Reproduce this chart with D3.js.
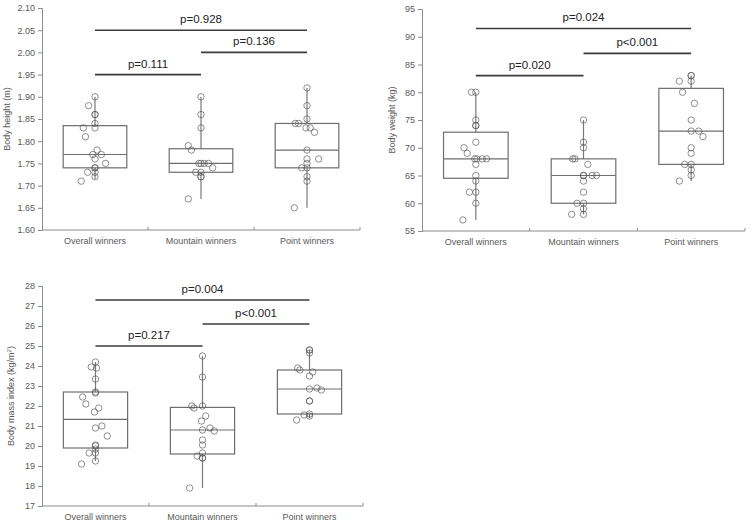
<!DOCTYPE html>
<html>
<head>
<meta charset="utf-8">
<script src="https://cdn.jsdelivr.net/npm/d3@7"></script>
<style>
  body { margin: 0; background: #fff; }
  svg { display: block; }
  text { font-family: "Liberation Sans", Arial, sans-serif; }
</style>
</head>
<body>
<svg width="751" height="524"></svg>
<script>
// categories shared by the three panels
var categories = ["Overall winners", "Mountain winners", "Point winners"];

// box stats per group: [whisker low, q1, median, q3, whisker high]
var heightBoxes = [[1.715, 1.74, 1.77, 1.835, 1.90], [1.67, 1.73, 1.75, 1.783, 1.90], [1.65, 1.74, 1.78, 1.84, 1.92]];
var weightBoxes = [[57, 64.5, 68, 72.8, 80], [58, 60, 65, 68, 75], [64, 67, 73, 80.7, 83]];
var bmiBoxes = [[19.25, 19.9, 21.33, 22.7, 24.2], [17.9, 19.6, 20.8, 21.93, 24.5], [21.4, 21.6, 22.85, 23.8, 24.8]];

// individual riders
var heightOverall = [1.90, 1.88, 1.86, 1.86, 1.84, 1.83, 1.83, 1.81, 1.78, 1.77, 1.77, 1.76, 1.75, 1.74, 1.74, 1.73, 1.73, 1.72, 1.71];
var heightMountain = [1.90, 1.86, 1.83, 1.79, 1.78, 1.75, 1.75, 1.75, 1.75, 1.74, 1.73, 1.73, 1.72, 1.72, 1.67];
var heightPoint = [1.92, 1.88, 1.85, 1.84, 1.84, 1.83, 1.83, 1.82, 1.78, 1.76, 1.76, 1.75, 1.74, 1.74, 1.72, 1.71, 1.65];

var weightOverall = [80, 80, 75, 74, 74, 71, 70, 69, 68, 68, 68, 68, 67, 65, 64, 62, 62, 60, 57];
var weightMountain = [75, 71, 70, 68, 68, 67, 65, 65, 65, 65, 64, 62, 60, 60, 59, 58, 58];
var weightPoint = [83, 83, 82, 82, 80, 78, 75, 73, 73, 72, 70, 69, 67, 67, 66, 65, 64];

var bmiOverall = [24.2, 23.95, 23.9, 23.35, 22.7, 22.65, 22.45, 22.1, 21.9, 21.7, 21.0, 20.9, 20.5, 20.05, 20.0, 19.85, 19.65, 19.65, 19.25, 19.1];
var bmiMountain = [24.5, 23.45, 22.0, 22.0, 21.9, 21.5, 21.25, 20.9, 20.8, 20.75, 20.3, 20.05, 19.65, 19.5, 19.4, 19.4, 17.9];
var bmiPoint = [24.8, 24.8, 24.65, 23.9, 23.8, 23.7, 23.5, 22.9, 22.85, 22.8, 22.25, 22.25, 21.6, 21.55, 21.5, 21.3];

// horizontal jitter, as fraction of the category band
var heightJitter = [
  [0, -0.06, 0, 0, 0, -0.11, 0, -0.09, 0.02, -0.02, 0.06, 0, 0.10, 0, 0, -0.07, 0, 0, -0.13],
  [0, 0, 0, -0.12, -0.09, -0.02, 0, 0.03, 0.07, 0.11, -0.05, 0, 0, 0, -0.12],
  [0, 0, 0, -0.11, -0.08, -0.01, 0.03, 0.07, 0, 0, 0.11, 0, -0.05, 0, 0, 0, -0.12]];
var weightJitter = [
  [-0.04, 0, 0, 0, 0, 0, -0.11, -0.08, -0.01, 0.01, 0.06, 0.10, 0, 0, 0, -0.06, 0, 0, -0.12],
  [0, 0, 0, -0.10, -0.08, 0.04, 0, 0, 0.08, 0.12, 0, 0, -0.06, 0, 0, -0.11, 0],
  [0, 0, -0.11, 0, -0.08, 0.03, 0, 0, 0.07, 0.11, 0, 0, -0.06, 0, 0, 0, -0.11]];
var bmiJitter = [
  [0, -0.04, 0.01, 0, 0, 0, -0.12, -0.09, 0.03, -0.01, 0.06, 0, 0.11, 0, 0, 0, -0.06, 0, 0, -0.13],
  [0, 0, -0.10, 0, -0.08, 0.03, -0.01, 0.07, 0, 0.11, 0, 0, 0, -0.05, 0, 0, -0.12],
  [0, 0, 0, -0.11, -0.09, 0.03, 0, 0.07, 0, 0.11, 0, 0, 0, -0.05, 0, -0.12]];

// significance brackets: [from group, to group, level, label]
var heightPvals = [[0, 2, 2.05, "p=0.928"], [1, 2, 2.00, "p=0.136"], [0, 1, 1.95, "p=0.111"]];
var weightPvals = [[0, 2, 91.5, "p=0.024"], [1, 2, 87, "p<0.001"], [0, 1, 83, "p=0.020"]];
var bmiPvals = [[0, 2, 27.3, "p=0.004"], [1, 2, 26.1, "p<0.001"], [0, 1, 25.0, "p=0.217"]];

var svg = d3.select("svg");

function drawPanel(opt) {
  var g = svg.append("g");

  var x = d3.scaleBand().domain(categories).range(opt.xr);
  var y = d3.scaleLinear().domain(opt.dom).range(opt.yr);
  var bw = x.bandwidth();
  var cx = function(i) { return x(categories[i]) + bw / 2; };

  // y axis
  var yAxis = g.append("g")
    .attr("transform", "translate(" + opt.xr[0] + ",0)")
    .call(d3.axisLeft(y).tickValues(opt.ticks).tickSize(4).tickFormat(d3.format(opt.fmt)));
  yAxis.select(".domain").attr("stroke", "#8c8c8c");
  yAxis.selectAll(".tick line").attr("stroke", "#8c8c8c");
  yAxis.selectAll(".tick text")
    .attr("fill", "#595959")
    .attr("font-size", "9px")
    .attr("font-family", "Liberation Sans, Arial, sans-serif");

  // x axis: plain line with ticks between categories
  g.append("line")
    .attr("x1", opt.xr[0]).attr("x2", opt.xr[1])
    .attr("y1", opt.yr[0]).attr("y2", opt.yr[0])
    .attr("stroke", "#8c8c8c");
  [1, 2, 3].forEach(function(i) {
    var xx = i < 3 ? x(categories[i]) : opt.xr[1];
    g.append("line")
      .attr("x1", xx).attr("x2", xx)
      .attr("y1", opt.yr[0]).attr("y2", opt.yr[0] - 3)
      .attr("stroke", "#8c8c8c");
  });
  categories.forEach(function(c, i) {
    g.append("text")
      .attr("x", cx(i))
      .attr("y", opt.yr[0] + 14)
      .attr("text-anchor", "middle")
      .attr("font-size", "9px")
      .attr("fill", "#595959")
      .text(c);
  });

  // y label
  var lab = g.append("text")
    .attr("transform", "translate(" + opt.labX + "," + ((opt.yr[0] + opt.yr[1]) / 2) + ") rotate(-90)")
    .attr("text-anchor", "middle")
    .attr("font-size", "9px")
    .attr("fill", "#595959");
  lab.append("tspan").text(opt.label);
  if (opt.sup) {
    lab.append("tspan").attr("font-size", "6px").attr("dy", "-3").text(opt.sup);
    lab.append("tspan").attr("dy", "3").text(")");
  }

  // whiskers, boxes, medians
  opt.boxes.forEach(function(b, i) {
    g.append("line")
      .attr("x1", cx(i)).attr("x2", cx(i))
      .attr("y1", y(b[0])).attr("y2", y(b[4]))
      .attr("stroke", "#7a7a7a")
      .attr("stroke-width", 1.2);
    g.append("rect")
      .attr("x", cx(i) - bw * 0.3)
      .attr("width", bw * 0.6)
      .attr("y", y(b[3]))
      .attr("height", y(b[1]) - y(b[3]))
      .attr("fill", "#fff")
      .attr("stroke", "#6e6e6e")
      .attr("stroke-width", 1.2);
    g.append("line")
      .attr("x1", cx(i) - bw * 0.3).attr("x2", cx(i) + bw * 0.3)
      .attr("y1", y(b[2])).attr("y2", y(b[2]))
      .attr("stroke", "#6e6e6e")
      .attr("stroke-width", 1.2);
  });

  // riders
  opt.points.forEach(function(vals, i) {
    g.selectAll(".pt" + i)
      .data(vals)
      .enter()
      .append("circle")
      .attr("class", "pt" + i)
      .attr("cx", function(d, j) { return cx(i) + opt.jitter[i][j] * bw; })
      .attr("cy", function(d) { return y(d); })
      .attr("r", 3.2)
      .attr("fill", "none")
      .attr("stroke", "#555")
      .attr("stroke-opacity", 0.65)
      .attr("stroke-width", 1);
  });

  // p-value brackets
  opt.pvals.forEach(function(p) {
    g.append("line")
      .attr("x1", cx(p[0])).attr("x2", cx(p[1]))
      .attr("y1", y(p[2])).attr("y2", y(p[2]))
      .attr("stroke", "#3a3a3a")
      .attr("stroke-width", 1.6);
    g.append("text")
      .attr("x", (cx(p[0]) + cx(p[1])) / 2)
      .attr("y", y(p[2]) - 7)
      .attr("text-anchor", "middle")
      .attr("font-size", "11.5px")
      .attr("fill", "#222")
      .text(p[3]);
  });
}

drawPanel({
  xr: [42, 360], yr: [230, 8], dom: [1.6, 2.1],
  ticks: d3.range(1.6, 2.1001, 0.05), fmt: ".2f",
  label: "Body height (m)", labX: 10,
  boxes: heightBoxes, points: [heightOverall, heightMountain, heightPoint],
  jitter: heightJitter, pvals: heightPvals
});

drawPanel({
  xr: [422, 745], yr: [231, 9], dom: [55, 95],
  ticks: d3.range(55, 96, 5), fmt: "d",
  label: "Body weight (kg)", labX: 395,
  boxes: weightBoxes, points: [weightOverall, weightMountain, weightPoint],
  jitter: weightJitter, pvals: weightPvals
});

drawPanel({
  xr: [42, 363], yr: [506, 286], dom: [17, 28],
  ticks: d3.range(17, 29, 1), fmt: "d",
  label: "Body mass index (kg/m", sup: "2", labX: 14,
  boxes: bmiBoxes, points: [bmiOverall, bmiMountain, bmiPoint],
  jitter: bmiJitter, pvals: bmiPvals
});
</script>
</body>
</html>
